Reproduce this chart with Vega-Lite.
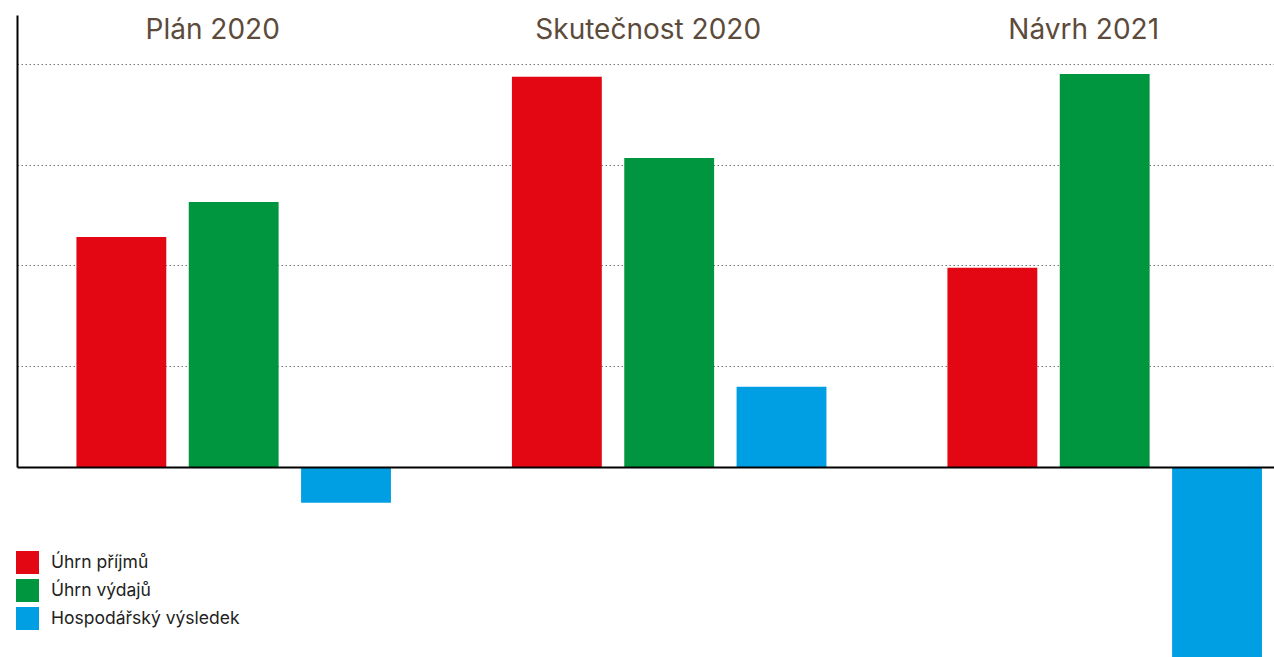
{
  "$schema": "https://vega.github.io/schema/vega-lite/v6.json",
  "width": 1258,
  "height": 452,
  "padding": {"left": 16, "top": 15, "right": 0, "bottom": 0},
  "background": "white",
  "config": {"view": {"stroke": null}},
  "data": {
    "values": [
      {"group": "Plán 2020", "series": "Úhrn příjmů", "value": 2.283},
      {"group": "Plán 2020", "series": "Úhrn výdajů", "value": 2.63},
      {"group": "Plán 2020", "series": "Hospodářský výsledek", "value": -0.354},
      {"group": "Skutečnost 2020", "series": "Úhrn příjmů", "value": 3.874},
      {"group": "Skutečnost 2020", "series": "Úhrn výdajů", "value": 3.067},
      {"group": "Skutečnost 2020", "series": "Hospodářský výsledek", "value": 0.797},
      {"group": "Návrh 2021", "series": "Úhrn příjmů", "value": 1.978},
      {"group": "Návrh 2021", "series": "Úhrn výdajů", "value": 3.901},
      {"group": "Návrh 2021", "series": "Hospodářský výsledek", "value": -1.886}
    ]
  },
  "encoding": {
    "x": {
      "field": "group",
      "type": "nominal",
      "sort": ["Plán 2020", "Skutečnost 2020", "Návrh 2021"],
      "scale": {"paddingInner": 0.2778, "paddingOuter": 0.0832, "align": 0.82},
      "axis": {"labels": false, "ticks": false, "title": null, "domain": true, "domainColor": "#000000", "domainWidth": 2, "grid": false, "zindex": 1}
    }
  },
  "layer": [
    {
      "mark": {"type": "bar"},
      "encoding": {
        "xOffset": {
          "field": "series",
          "type": "nominal",
          "sort": ["Úhrn příjmů", "Úhrn výdajů", "Hospodářský výsledek"],
          "scale": {"paddingInner": 0.2, "paddingOuter": 0}
        },
        "y": {
          "field": "value",
          "type": "quantitative",
          "scale": {"domain": [0, 4.486], "nice": false, "zero": false},
          "axis": {"values": [1, 2, 3, 4], "labels": false, "ticks": false, "title": null, "domain": true, "domainColor": "#000000", "domainWidth": 2, "grid": true, "gridColor": "#777777", "gridWidth": 1, "gridDash": [1.5, 2.5]}
        },
        "color": {
          "field": "series",
          "type": "nominal",
          "sort": ["Úhrn příjmů", "Úhrn výdajů", "Hospodářský výsledek"],
          "scale": {"domain": ["Úhrn příjmů", "Úhrn výdajů", "Hospodářský výsledek"], "range": ["#e30613", "#009640", "#009fe3"]},
          "legend": {
            "title": null,
            "orient": "none",
            "legendX": -1,
            "legendY": 536,
            "padding": 0,
            "symbolType": "square",
            "symbolSize": 529,
            "symbolStrokeWidth": 0,
            "symbolOpacity": 1,
            "rowPadding": 5,
            "labelOffset": 12,
            "labelFont": "Inter",
            "labelFontSize": 17.5,
            "labelColor": "#222222",
            "labelLimit": 400
          }
        }
      }
    },
    {
      "transform": [{"filter": "datum.series === 'Úhrn příjmů'"}],
      "mark": {"type": "text", "font": "Inter", "fontSize": 28, "color": "#5c4a3b", "baseline": "alphabetic", "align": "center", "dx": -21},
      "encoding": {
        "y": {"datum": 4.243, "type": "quantitative"},
        "text": {"field": "group"}
      }
    }
  ]
}
